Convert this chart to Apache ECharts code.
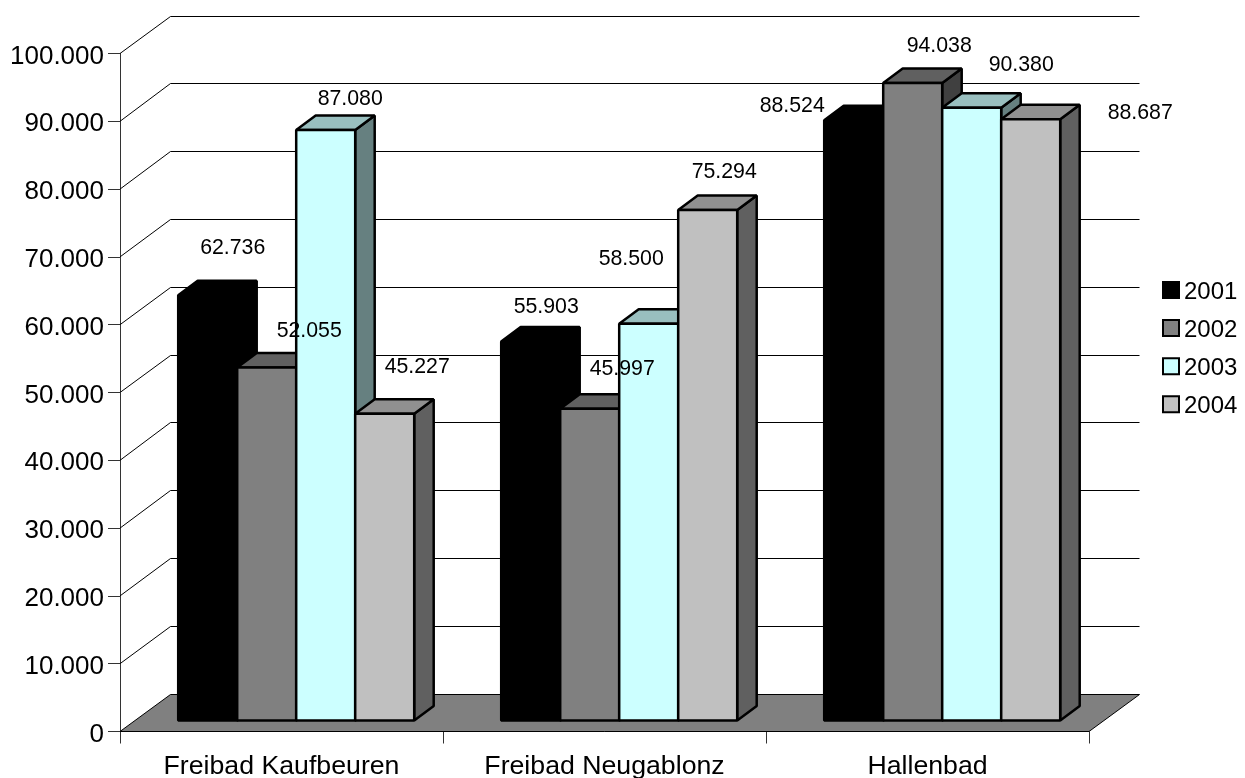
<!DOCTYPE html>
<html>
<head>
<meta charset="utf-8">
<style>html,body{margin:0;padding:0;background:#fff}#c{width:1245px;height:778px}</style>
<script src="https://cdn.jsdelivr.net/npm/echarts@6/dist/echarts.min.js"></script>
</head>
<body>
<div id="c"></div>
<script>
var categories = ['Freibad Kaufbeuren', 'Freibad Neugablonz', 'Hallenbad'];
var years = ['2001', '2002', '2003', '2004'];
var values2001 = [62736, 55903, 88524];
var values2002 = [52055, 45997, 94038];
var values2003 = [87080, 58500, 90380];
var values2004 = [45227, 75294, 88687];
var yTicks = [0, 10000, 20000, 30000, 40000, 50000, 60000, 70000, 80000, 90000, 100000];

var seriesValues = [values2001, values2002, values2003, values2004];
var FONT = '"Liberation Sans", Arial, sans-serif';
var palettes = [
  {front: '#000000', top: '#000000', side: '#000000'},
  {front: '#808080', top: '#606060', side: '#404040'},
  {front: '#CCFFFF', top: '#99BFBF', side: '#668080'},
  {front: '#C0C0C0', top: '#909090', side: '#606060'}
];
// hand-placed label offsets from the top centre of each bar's front face [series][category]
var labelShift = [
  [[25, -47], [15.5, -34], [-61.5, -14.5]],
  [[42.5, -36], [32.5, -40], [26.5, -36.5]],
  [[24.5, -31], [-17.5, -65], [49.5, -43]],
  [[32.5, -47], [16.5, -38], [109.5, -6.5]]
];
var WALL = [50.5, -38];     // back wall offset from axis plane
var BAR_POS = [14.7, -11];  // bar front face offset from axis plane
var BAR_D = [19.5, -14.5];  // bar depth
var BAR_RATIO = 59 / 323;

function fmt(v) { return String(v).replace(/\B(?=(\d{3})+$)/g, '.'); }

function barFrame(api, si) {
  var p = api.coord([api.value(0), api.value(1)]);
  var base = api.coord([api.value(0), 0]);
  var w = api.size([1, 0])[0] * BAR_RATIO;
  var x0 = p[0] + BAR_POS[0] + (si - 2) * w;
  return {x0: x0, x1: x0 + w, top: p[1] + BAR_POS[1], bot: base[1] + BAR_POS[1], w: w};
}

function barRender(si) {
  return function (params, api) {
    var f = barFrame(api, si), c = palettes[si], dx = BAR_D[0], dy = BAR_D[1];
    var stroke = {stroke: '#000', lineWidth: 2.5, lineJoin: 'bevel'};
    function poly(points, fill) {
      return {type: 'polygon', shape: {points: points}, style: Object.assign({fill: fill}, stroke)};
    }
    return {type: 'group', children: [
      poly([[f.x1, f.bot], [f.x1 + dx, f.bot + dy], [f.x1 + dx, f.top + dy], [f.x1, f.top]], c.side),
      poly([[f.x0, f.top], [f.x1, f.top], [f.x1 + dx, f.top + dy], [f.x0 + dx, f.top + dy]], c.top),
      poly([[f.x0, f.bot], [f.x1, f.bot], [f.x1, f.top], [f.x0, f.top]], c.front)
    ]};
  };
}

function wallRender(params, api) {
  var v = api.value(0), g = params.coordSys;
  var y = api.coord([0, v])[1];
  var x0 = g.x, x1 = g.x + g.width;
  var by = Math.round(y + WALL[1]) + 0.5;
  if (v === 0) {
    return {type: 'polygon', shape: {points: [[x0, y], [x0 + WALL[0], by], [x1 + WALL[0], by], [x1, y]]},
      style: {fill: '#808080', stroke: '#000', lineWidth: 1}};
  }
  return {type: 'polyline', shape: {points: [[x0, y], [x0 + WALL[0], by], [x1 + WALL[0], by]]},
    style: {fill: null, stroke: '#000', lineWidth: 1}};
}

var series = [{
  type: 'custom', name: 'wall', z: 1, silent: true, coordinateSystem: 'cartesian2d',
  data: yTicks.map(function (v) { return [v]; }),
  encode: {x: -1, y: 0},
  renderItem: wallRender
}];
years.forEach(function (year, si) {
  series.push({
    type: 'custom', name: year, z: 2 + si, coordinateSystem: 'cartesian2d',
    itemStyle: {color: palettes[si].front},
    data: seriesValues[si].map(function (v, ci) { return [ci, v]; }),
    encode: {x: 0, y: 1},
    renderItem: barRender(si)
  });
});
years.forEach(function (year, si) {
  series.push({
    type: 'custom', name: 'labels' + year, z: 10, silent: true, coordinateSystem: 'cartesian2d',
    data: seriesValues[si].map(function (v, ci) { return [ci, v]; }),
    encode: {x: 0, y: 1},
    renderItem: function (params, api) {
      var f = barFrame(api, si), s = labelShift[si][params.dataIndex];
      return {type: 'text', style: {
        text: fmt(api.value(1)), x: (f.x0 + f.x1) / 2 + s[0], y: f.top + s[1],
        align: 'center', verticalAlign: 'middle', textAlign: 'center', textVerticalAlign: 'middle',
        font: '21.3px ' + FONT, fill: '#000'
      }};
    }
  });
});

var chart = echarts.init(document.getElementById('c'), null, {renderer: 'canvas'});
chart.setOption({
  animation: false,
  backgroundColor: '#fff',
  grid: {left: 120, top: 53.5, width: 969, height: 678, containLabel: false, outerBoundsMode: 'none'},
  xAxis: {
    type: 'category', data: categories,
    axisLine: {lineStyle: {color: '#000', width: 1}},
    axisTick: {show: true, length: 12, alignWithLabel: false, lineStyle: {color: '#333'}},
    axisLabel: {color: '#000', fontFamily: FONT, fontSize: 26.7, margin: 22, interval: 0},
    splitLine: {show: false}
  },
  yAxis: {
    type: 'value', min: 0, max: 100000, interval: 10000,
    axisLine: {show: true, lineStyle: {color: '#333', width: 1}},
    axisTick: {show: true, length: 12, lineStyle: {color: '#333'}},
    axisLabel: {
      margin: 16,
      formatter: function (v) { return '{a|' + fmt(v) + '}'; },
      rich: {a: {color: '#000', fontFamily: FONT, fontSize: 26, padding: [6, 0, 0, 0]}}
    },
    splitLine: {show: false}
  },
  legend: {
    orient: 'vertical', left: 1162, top: 280, selectedMode: false,
    itemWidth: 16, itemHeight: 16, itemGap: 14.1, padding: 0,
    formatter: function (name) { return '{a|' + name + '}'; },
    textStyle: {color: '#000', fontFamily: FONT, fontSize: 24, rich: {a: {color: '#000', fontFamily: FONT, fontSize: 24, padding: [4, 0, 0, 0]}}},
    data: years.map(function (y, i) {
      return {name: y, icon: 'rect', itemStyle: {color: palettes[i].front, borderColor: '#000', borderWidth: 2}};
    })
  },
  series: series
});
</script>
</body>
</html>
